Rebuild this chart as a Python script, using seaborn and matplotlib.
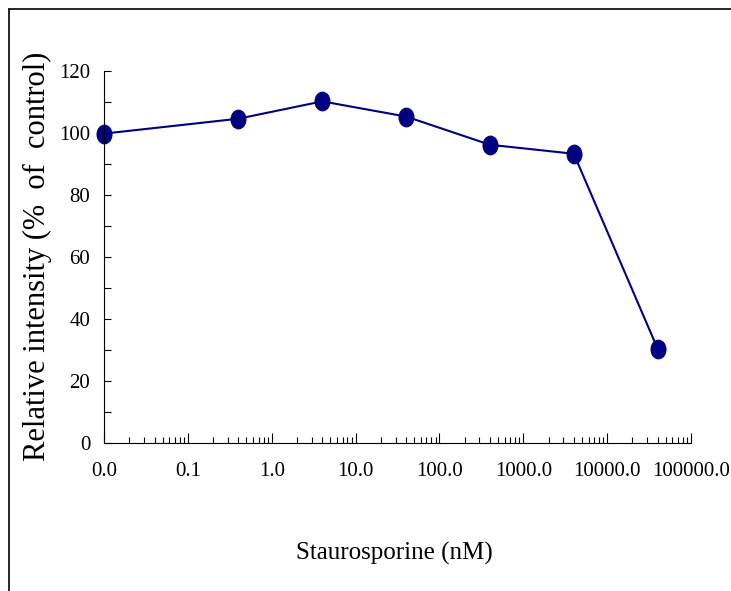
import matplotlib
matplotlib.use("Agg")
import matplotlib.pyplot as plt
import numpy as np
import seaborn as sns
from matplotlib.path import Path
from matplotlib.ticker import FixedLocator, FuncFormatter, LogLocator, MultipleLocator, NullFormatter

# ── Data ──────────────────────────────────────────────────────────────────────

# the untreated control (0 nM) sits at the 0.01 position of the log axis
conc_nm = [0.01, 0.4, 4, 40, 400, 4000, 40000]
rel_intensity = [99.8, 104.6, 110.2, 105.3, 96.2, 93.3, 30.4]

x_ticks = [0.01, 0.1, 1, 10, 100, 1000, 10000, 100000]

# ── Style ─────────────────────────────────────────────────────────────────────

sns.set_style("ticks")
plt.rcParams["font.family"] = ["Liberation Serif", "DejaVu Serif"]
plt.rcParams.update({"text.color": "black", "axes.labelcolor": "black",
                     "xtick.color": "black", "ytick.color": "black"})

NAVY = "#000080"

# upright ellipse marker
circle = Path.unit_circle()
ellipse = Path(circle.vertices * np.array([0.8, 1.0]), circle.codes)

fig = plt.figure(figsize=(7.31, 5.91), dpi=100)
ax = fig.add_axes([0.1423, 0.2504, 0.8030, 0.6295])

sns.lineplot(x=conc_nm, y=rel_intensity, ax=ax, color=NAVY, linewidth=1.5,
             marker=ellipse, markersize=13.5, markeredgecolor=NAVY,
             markerfacecolor=NAVY, clip_on=False)

ax.set_xscale("log")
ax.set_xlim(0.01, 100000)
ax.set_ylim(0, 120)

ax.xaxis.set_major_locator(FixedLocator(x_ticks))
ax.xaxis.set_minor_locator(LogLocator(base=10, subs=np.arange(2, 10)))
ax.xaxis.set_major_formatter(FuncFormatter(lambda v, _: f"{v:.1f}"))
ax.xaxis.set_minor_formatter(NullFormatter())
ax.yaxis.set_major_locator(MultipleLocator(20))
ax.yaxis.set_minor_locator(MultipleLocator(10))

ax.tick_params(axis="x", which="major", direction="in", length=7, width=0.8,
               labelsize=15, pad=14)
ax.tick_params(axis="x", which="minor", direction="in", length=4, width=0.8)
ax.tick_params(axis="y", which="both", direction="in", length=5, width=0.8,
               labelsize=15, pad=10)

for side in ("top", "right"):
    ax.spines[side].set_visible(False)
for side in ("left", "bottom"):
    ax.spines[side].set_linewidth(0.8)
    ax.spines[side].set_color("black")

fig.text(0.540, 0.064, "Staurosporine (nM)", ha="center", va="center", fontsize=18)
fig.text(0.051, 0.567, "Relative intensity (%  of  control)", ha="center", va="center",
         rotation=90, fontsize=22)

# outer frame of the original figure
fig.add_artist(plt.Line2D([0.012, 1.0], [0.985, 0.985], color="black", linewidth=1.2))
fig.add_artist(plt.Line2D([0.012, 0.012], [0.0, 0.985], color="black", linewidth=1.2))

fig.savefig("out.png", dpi=100)
